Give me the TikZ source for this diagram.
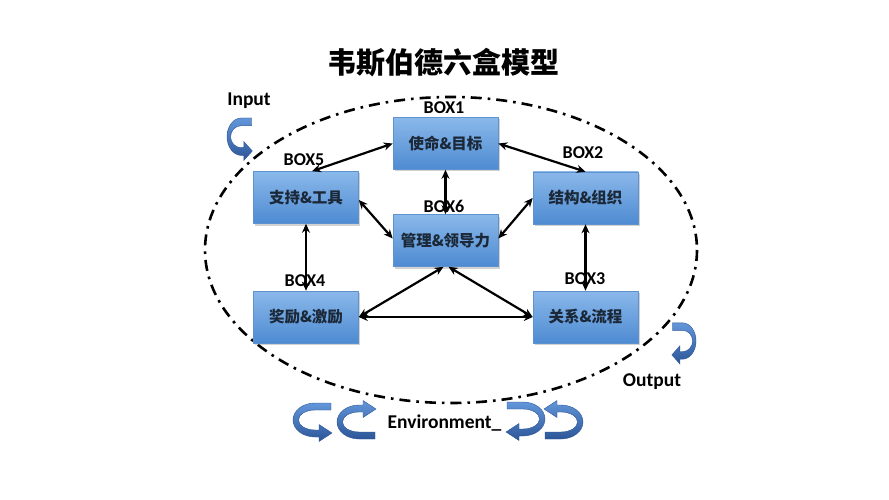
\documentclass[tikz,border=0pt]{standalone}
\usepackage{fontspec}
\setmainfont{Carlito}
\newfontfamily\cjk{Noto Sans CJK SC}
\usetikzlibrary{arrows.meta,shadows}
\definecolor{boxtop}{HTML}{8AB8EA}
\definecolor{boxbot}{HTML}{4E8BD2}
\definecolor{boxline}{HTML}{5F93CF}
\definecolor{boxtext}{HTML}{1B2838}
\definecolor{rtop}{HTML}{6396DA}
\definecolor{rbot}{HTML}{2C5698}
\tikzset{
  crv/.pic={
    \shade[top color=rtop, bottom color=rbot, draw=rbot, line width=0.4pt]
      (16,-17) -- (0,-17)
      arc[start angle=270, end angle=90, x radius=22, y radius=17]
      -- (4,17) -- (4,21.5) -- (17,13) -- (4,4.5) -- (4,10) -- (0,10)
      arc[start angle=90, end angle=270, x radius=16.5, y radius=10]
      -- (16,-10) -- cycle;
  }
}
\begin{document}
\begin{tikzpicture}[x=1pt,y=-1pt,
  boxnode/.style={draw=boxline, line width=0.6pt, top color=boxtop, bottom color=boxbot,
    minimum width=105pt, minimum height=52pt, inner sep=0pt,
    font=\cjk\bfseries\fontsize{15.5}{17}\selectfont, text=boxtext,
    drop shadow={opacity=0.35, shadow xshift=1.5pt, shadow yshift=-2pt}},
  lbl/.style={font=\bfseries\fontsize{18}{20}\selectfont, inner sep=0pt, anchor=base},
  biglbl/.style={font=\bfseries\fontsize{19.5}{21}\selectfont, inner sep=0pt, anchor=base},
  link/.style={draw=black, line width=2.2pt, {Stealth[length=9pt,width=8pt]}-{Stealth[length=9pt,width=8pt]}},
  orbit/.style={draw=black, line width=2.6pt, dash pattern=on 11pt off 6pt on 2.6pt off 6pt}
]
\fill[white] (0,0) rectangle (889,500);
\useasboundingbox (0,0) rectangle (889,500);

\node[font=\cjk\bfseries\fontsize{29}{32}\selectfont, inner sep=0pt] (title) at (443.5,63) {韦斯伯德六盒模型};

\draw[orbit] (451,250) ellipse [x radius=246, y radius=153];

\node[boxnode] (b1) at (445.5,143.5) {使命\&目标};
\node[boxnode] (b2) at (585.5,198) {结构\&组织};
\node[boxnode] (b6) at (445.5,240.5) {管理\&领导力};
\node[boxnode] (b5) at (306,197.5) {支持\&工具};
\node[boxnode] (b4) at (306,317) {奖励\&激励};
\node[boxnode] (b3) at (585.5,317) {关系\&流程};

\node[lbl] (l1) at (444,113.5) {BOX1};
\node[lbl] (l2) at (583,158.5) {BOX2};
\node[lbl] (l6) at (444,212.5) {BOX6};
\node[lbl] (l5) at (304,165.5) {BOX5};
\node[lbl] (l4) at (305,286.5) {BOX4};
\node[lbl] (l3) at (585,284.5) {BOX3};

\draw[link] (b1.west) -- ([xshift=6pt]b5.north);
\draw[link] (b1.east) -- (b2.north);
\draw[link] (b1.south) -- (b6.north);
\draw[link] ([yshift=2pt]b6.west) -- ([yshift=-2.5pt]b5.east);
\draw[link] ([yshift=2pt]b6.east) -- (b2.west);
\draw[link] (b5.south) -- (b4.north);
\draw[link] (b2.south) -- (b3.north);
\draw[link] (b4.east) -- (b3.west);
\draw[link] ([xshift=-2pt]b6.south) -- (b4.east);
\draw[link] ([xshift=3pt]b6.south) -- (b3.west);

\node[biglbl] (inp) at (249,106) {Input};
\node[biglbl] (outp) at (652,386) {Output};
\node[biglbl] (env) at (444.5,428) {Environment\_};

\pic[xscale=0.65, yscale=1.1] at (241.3,136.7) {crv};
\pic[xscale=-0.62, yscale=1.07] at (682.4,341) {crv};
\pic at (315,420) {crv};
\pic[yscale=-1] at (359,422) {crv};
\pic[xscale=-1] at (523,419) {crv};
\pic[xscale=-1, yscale=-1] at (561,422) {crv};
\end{tikzpicture}
\end{document}
